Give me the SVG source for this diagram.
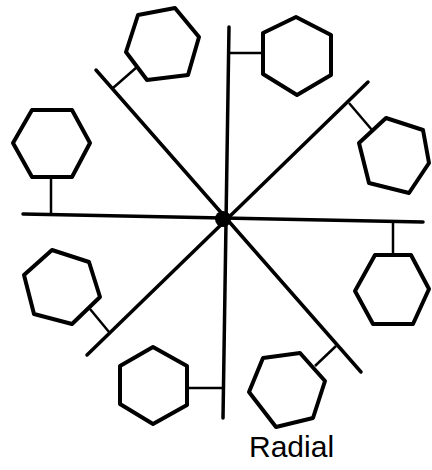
<svg xmlns="http://www.w3.org/2000/svg" width="432" height="470" viewBox="0 0 432 470">
<style>
.bus{stroke:#000;stroke-width:3.5;stroke-linecap:round;fill:none}
.hex{stroke:#000;stroke-width:4;stroke-linejoin:round;fill:#fff}
.tap{stroke:#000;stroke-width:2.5;fill:none}
.lbl{font-family:"Liberation Sans",Arial,sans-serif;font-size:30px;fill:#000}
</style>
<rect width="432" height="470" fill="#fff"/>
<g id="connectors">
<line class="bus" x1="229" y1="27" x2="223" y2="418"/>
<line class="bus" x1="23" y1="214" x2="423" y2="222"/>
<line class="bus" x1="96" y1="70" x2="361" y2="372"/>
<line class="bus" x1="368" y1="82" x2="87" y2="355"/>
<line class="tap" x1="113" y1="88" x2="137" y2="67"/>
<line class="tap" x1="229" y1="53" x2="263" y2="53"/>
<line class="tap" x1="349" y1="103" x2="372" y2="130"/>
<line class="tap" x1="51" y1="177" x2="51" y2="214"/>
<line class="tap" x1="90" y1="309" x2="109" y2="332"/>
<line class="tap" x1="187" y1="388" x2="222" y2="388"/>
<line class="tap" x1="315" y1="366" x2="336" y2="346"/>
<line class="tap" x1="393" y1="221" x2="393" y2="255"/>
</g>
<g id="hub"><circle cx="223" cy="219" r="8" fill="#000"/></g>
<g id="node-nw"><polygon class="hex" points="138,15 175,8 199,37 188,75 147,80 126,52"/></g>
<g id="node-n"><polygon class="hex" points="296,17 331,35 331,75 297,95 263,74 263,33"/></g>
<g id="node-ne"><polygon class="hex" points="386,118 423,130 429,163 409,193 369,183 359,143"/></g>
<g id="node-w"><polygon class="hex" points="32,110 72,110 90,143 72,177 32,177 13,143"/></g>
<g id="node-sw"><polygon class="hex" points="52,250 89,262 100,297 72,324 34,314 24,275"/></g>
<g id="node-s"><polygon class="hex" points="153,347 187,366 187,405 153,424 120,404 120,366"/></g>
<g id="node-se"><polygon class="hex" points="263,358 300,353 325,381 313,418 276,427 249,392"/></g>
<g id="node-e"><polygon class="hex" points="375,255 411,255 429,289 413,324 373,324 355,291"/></g>
<text class="lbl" x="249" y="457">Radial</text>
</svg>
